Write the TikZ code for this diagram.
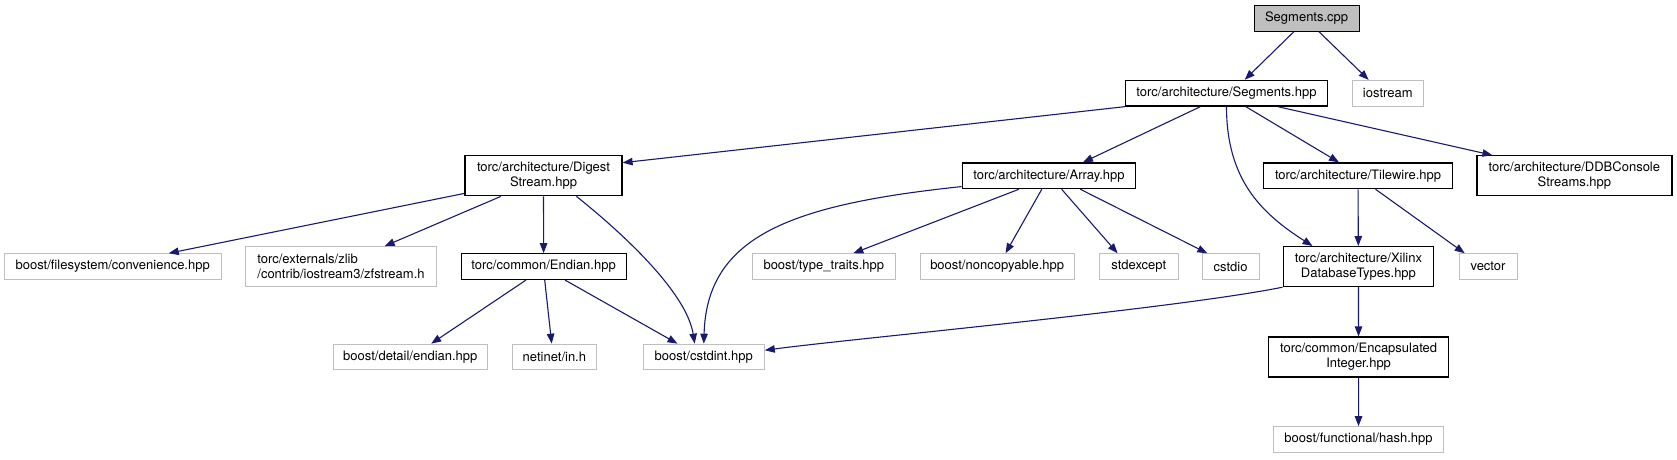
\documentclass[tikz,border=0pt]{standalone}
\usepackage{fontspec}
\setmainfont{TeX Gyre Heros}
\usepackage{xcolor}
\usepackage{tikz}
\usetikzlibrary{shapes,arrows,arrows.meta,calc}

\definecolor{edgeblue}{HTML}{191970}
\definecolor{extgray}{HTML}{BFBFBF}

\begin{document}
\begin{tikzpicture}[x=1pt, y=-1pt,
    font=\fontsize{13}{15}\selectfont,
    header/.style={rectangle, draw=black, fill=white, line width=1.2pt, inner sep=0pt, minimum height=25.7pt, align=center},
    header2/.style={header, minimum height=40pt},
    root/.style={header, fill=extgray},
    extern/.style={rectangle, draw=extgray, fill=white, line width=1pt, inner sep=0pt, minimum height=25.7pt},
    dep/.style={-{Triangle[length=10pt,width=7.5pt]}, edgeblue, line width=1.1pt}
]
\useasboundingbox (0,0) rectangle (1677,459);

% --- rank 0 / 1 ---
\node[root, minimum width=105pt] (cpp) at (1306.6,18.3) {Segments.cpp};
\node[header, minimum width=202pt] (seghpp) at (1226.5,93.2) {torc/architecture/Segments.hpp};
\node[extern, minimum width=71.5pt] (iostream) at (1387.8,93.2) {iostream};

% --- rank 2 ---
\node[header2, minimum width=157pt] (digest) at (543.5,175.8) {torc/architecture/Digest\\Stream.hpp};
\node[header, minimum width=173.5pt] (array) at (1049,175.8) {torc/architecture/Array.hpp};
\node[header, minimum width=189.5pt] (tilewire) at (1358,175.8) {torc/architecture/Tilewire.hpp};
\node[header2, minimum width=195pt] (ddb) at (1574.4,175.8) {torc/architecture/DDBConsole\\Streams.hpp};

% --- rank 3 ---
\node[extern, minimum width=217pt] (conv) at (112.7,266.6) {boost/filesystem/convenience.hpp};
\node[extern, minimum width=190.7pt, minimum height=40pt, align=left] (zfs) at (341,266.6) {torc/externals/zlib\\/contrib/iostream3/zfstream.h};
\node[header, minimum width=165pt] (endian) at (543.6,266.6) {torc/common/Endian.hpp};
\node[extern, minimum width=142.5pt] (typetr) at (823.8,266.6) {boost/type\_traits.hpp};
\node[extern, minimum width=154.3pt] (noncopy) at (997.2,266.6) {boost/noncopyable.hpp};
\node[extern, minimum width=78.5pt] (stdexc) at (1138.8,266.6) {stdexcept};
\node[extern, minimum width=57pt] (cstdio) at (1230.6,266.6) {cstdio};
\node[header2, minimum width=150.6pt] (xilinx) at (1358.4,266.6) {torc/architecture/Xilinx\\DatabaseTypes.hpp};
\node[extern, minimum width=58pt] (vector) at (1488,266.6) {vector};

% --- rank 4 / 5 ---
\node[extern, minimum width=154pt] (boostendian) at (410.3,357) {boost/detail/endian.hpp};
\node[extern, minimum width=84.6pt] (netinet) at (554.4,357) {netinet/in.h};
\node[extern, minimum width=121pt] (cstdint) at (703.8,357) {boost/cstdint.hpp};
\node[header2, minimum width=180pt] (encap) at (1358.6,357) {torc/common/Encapsulated\\Integer.hpp};
\node[extern, minimum width=170.8pt] (hash) at (1358.5,439.5) {boost/functional/hash.hpp};

% --- includes of Segments ---
\draw[dep] ([xshift=-12.8pt]cpp.south) -- ([xshift=18.2pt]seghpp.north);
\draw[dep] ([xshift=12.4pt]cpp.south) -- ([xshift=-19.2pt]iostream.north);
\draw[dep] (seghpp.south west) -- ([yshift=-7.5pt]digest.north east);
\draw[dep] ([xshift=-26.1pt]seghpp.south) -- ([xshift=33.9pt]array.north);
\draw[dep] (seghpp.south) .. controls +(0,74) and +(-50,-32) .. ([xshift=-45.9pt]xilinx.north);
\draw[dep] ([xshift=19.3pt]seghpp.south) -- ([xshift=-19pt]tilewire.north);
\draw[dep] ([xshift=51.3pt]seghpp.south) -- ([xshift=-82pt]ddb.north);

% --- DigestStream ---
\draw[dep] ([yshift=3pt]digest.south west) -- ([xshift=56pt]conv.north);
\draw[dep] ([xshift=-42.7pt]digest.south) -- ([xshift=43.6pt]zfs.north);
\draw[dep] (digest) -- (endian);
\draw[dep] ([xshift=33pt]digest.south) .. controls +(50,40) and +(-8,-50) .. ([xshift=-9.1pt]cstdint.north);

% --- Array ---
\draw[dep] ([yshift=2.7pt]array.south west) .. controls +(-170,18) and +(3,-108) .. (cstdint.north);
\foreach \dx/\tgt/\tx in {-30.1/typetr/29.5, -7.2/noncopy/8.3, 12.6/stdexc/-21.2, 31.3/cstdio/-23.3}
    \draw[dep] ([xshift=\dx pt]array.south) -- ([xshift=\tx pt]\tgt.north);

% --- Tilewire ---
\draw[dep] (tilewire) -- (xilinx);
\draw[dep] ([xshift=17.5pt]tilewire.south) -- ([xshift=-23.3pt]vector.north);

% --- Endian ---
\draw[dep] ([xshift=-17.6pt]endian.south) -- ([xshift=20.9pt]boostendian.north);
\draw[dep] ([xshift=1.1pt]endian.south) -- ([xshift=-2.7pt]netinet.north);
\draw[dep] ([xshift=21.4pt]endian.south) -- ([xshift=-26.3pt]cstdint.north);

% --- XilinxDatabaseTypes ---
\draw[dep] (xilinx.south west) .. controls +(-110,22) and +(90,-12) .. ([yshift=-6.6pt]cstdint.north east);
\draw[dep] (xilinx) -- (encap);
\draw[dep] (encap) -- (hash);

\end{tikzpicture}
\end{document}
